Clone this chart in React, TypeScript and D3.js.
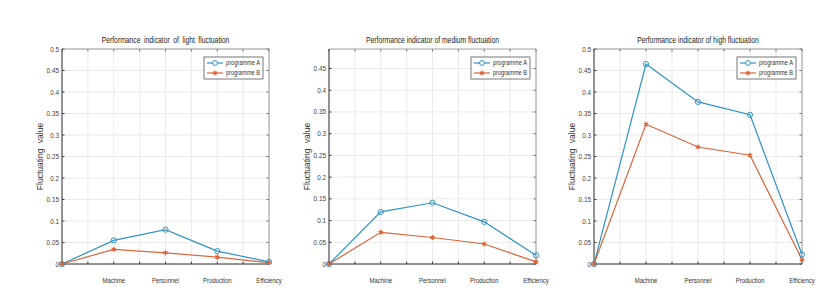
import { useEffect, useRef } from "react";
import * as d3 from "d3";

// category positions on the x axis (MATLAB style 0..8 with labels at 2,4,6,8)
const xPositions = [0, 2, 4, 6, 8];
const categoryLabels = ["", "Machine", "Personnel", "Production", "Efficiency"];
const yTicks = [0, 0.05, 0.1, 0.15, 0.2, 0.25, 0.3, 0.35, 0.4, 0.45, 0.5];

const titles = [
  "Performance indicator of light fluctuation",
  "Performance indicator of medium fluctuation",
  "Performance indicator of high fluctuation",
];

const lightA = [0, 0.055, 0.08, 0.03, 0.005];
const lightB = [0, 0.034, 0.026, 0.016, 0.003];
const mediumA = [0, 0.12, 0.141, 0.097, 0.02];
const mediumB = [0, 0.073, 0.061, 0.046, 0.005];
const highA = [0, 0.465, 0.377, 0.347, 0.022];
const highB = [0, 0.325, 0.272, 0.253, 0.01];

const yMaxes = [0.5, 0.495, 0.5];
const seriesNames = ["programme A", "programme B"];

const colorA = "#2f93c4";
const colorB = "#d9653a";
const font = "'Liberation Sans', Arial, sans-serif";

// squeeze text horizontally, the source image is a bit compressed
function squeeze(sel, k = 0.82) {
  sel.each(function () {
    const len = this.getComputedTextLength();
    if (len > 0) {
      d3.select(this).attr("textLength", len * k).attr("lengthAdjust", "spacingAndGlyphs");
    }
  });
}

function App() {
  const ref = useRef(null);

  useEffect(() => {
    const width = 827;
    const height = 305;
    const root = d3.select(ref.current);
    root.selectAll("*").remove();

    const svg = root
      .append("svg")
      .attr("width", width)
      .attr("height", height)
      .style("display", "block")
      .style("background", "#fff");

    const panels = [
      { left: 62, right: 269, a: lightA, b: lightB },
      { left: 329, right: 536, a: mediumA, b: mediumB },
      { left: 594, right: 802, a: highA, b: highB },
    ];
    const top = 49;
    const bottom = 264;

    panels.forEach((p, i) => {
      const x = d3.scaleLinear().domain([0, 8]).range([p.left, p.right]);
      const y = d3.scaleLinear().domain([0, yMaxes[i]]).range([bottom, top]);
      const g = svg.append("g");
      const ticks = yTicks.filter((t) => t <= yMaxes[i] + 1e-9);

      // grid
      g.selectAll(".gx")
        .data(d3.range(0, 9))
        .enter()
        .append("line")
        .attr("x1", (d) => x(d))
        .attr("x2", (d) => x(d))
        .attr("y1", top)
        .attr("y2", bottom)
        .attr("stroke", "#e4e4e4")
        .attr("stroke-width", 0.8);
      g.selectAll(".gy")
        .data(ticks)
        .enter()
        .append("line")
        .attr("x1", p.left)
        .attr("x2", p.right)
        .attr("y1", (d) => y(d))
        .attr("y2", (d) => y(d))
        .attr("stroke", "#e4e4e4")
        .attr("stroke-width", 0.8);

      // ticks on all four sides
      d3.range(0, 9).forEach((d) => {
        g.append("line").attr("x1", x(d)).attr("x2", x(d)).attr("y1", bottom).attr("y2", bottom - 2.5).attr("stroke", "#444");
        g.append("line").attr("x1", x(d)).attr("x2", x(d)).attr("y1", top).attr("y2", top + 2.5).attr("stroke", "#777");
      });
      ticks.forEach((d) => {
        g.append("line").attr("x1", p.left).attr("x2", p.left + 2.5).attr("y1", y(d)).attr("y2", y(d)).attr("stroke", "#444");
        g.append("line").attr("x1", p.right).attr("x2", p.right - 2.5).attr("y1", y(d)).attr("y2", y(d)).attr("stroke", "#777");
      });

      // box
      g.append("line").attr("x1", p.left).attr("x2", p.right).attr("y1", top).attr("y2", top).attr("stroke", "#888").attr("stroke-width", 0.8);
      g.append("line").attr("x1", p.right).attr("x2", p.right).attr("y1", top).attr("y2", bottom).attr("stroke", "#888").attr("stroke-width", 0.8);
      g.append("line").attr("x1", p.left).attr("x2", p.right).attr("y1", bottom).attr("y2", bottom).attr("stroke", "#333").attr("stroke-width", 1);
      g.append("line").attr("x1", p.left).attr("x2", p.left).attr("y1", top).attr("y2", bottom).attr("stroke", "#333").attr("stroke-width", 1);

      // y tick labels
      g.selectAll(".yl")
        .data(ticks)
        .enter()
        .append("text")
        .attr("x", p.left - 3)
        .attr("y", (d) => y(d) + 2.5)
        .attr("text-anchor", "end")
        .attr("font-family", font)
        .attr("font-size", 7.5)
        .attr("fill", "#444")
        .text((d) => d3.format("")(+d.toFixed(2)))
        .call(squeeze, 0.85);

      // category labels
      g.selectAll(".xl")
        .data(categoryLabels)
        .enter()
        .append("text")
        .attr("x", (d, j) => x(xPositions[j]))
        .attr("y", 283)
        .attr("text-anchor", "middle")
        .attr("font-family", font)
        .attr("font-size", 7.5)
        .attr("fill", "#333")
        .text((d) => d)
        .call(squeeze, 0.8);

      // title
      g.append("text")
        .attr("x", (p.left + p.right) / 2)
        .attr("y", 43)
        .attr("text-anchor", "middle")
        .attr("font-family", font)
        .attr("font-size", 8.5)
        .attr("fill", "#222")
        .attr("word-spacing", i === 0 ? 2 : 0)
        .text(titles[i])
        .call(squeeze, 0.8);

      // y label
      g.append("text")
        .attr("transform", `translate(${p.left - 19},${(top + bottom) / 2}) rotate(-90)`)
        .attr("text-anchor", "middle")
        .attr("font-family", font)
        .attr("font-size", 8.5)
        .attr("fill", "#333")
        .attr("word-spacing", 3)
        .text("Fluctuating value");

      const line = d3
        .line<number>()
        .x((d, j) => x(xPositions[j]))
        .y((d) => y(d));

      g.append("path").attr("d", line(p.a)).attr("fill", "none").attr("stroke", colorA).attr("stroke-width", 1.2);
      g.append("path").attr("d", line(p.b)).attr("fill", "none").attr("stroke", colorB).attr("stroke-width", 1.2);

      g.selectAll(".ma")
        .data(p.a)
        .enter()
        .append("circle")
        .attr("cx", (d, j) => x(xPositions[j]))
        .attr("cy", (d) => y(d))
        .attr("r", 2.6)
        .attr("fill", "none")
        .attr("stroke", colorA)
        .attr("stroke-width", 1);

      const star = d3.symbol().type(d3.symbolAsterisk).size(18);
      g.selectAll(".mb")
        .data(p.b)
        .enter()
        .append("path")
        .attr("d", star())
        .attr("transform", (d, j) => `translate(${x(xPositions[j])},${y(d)})`)
        .attr("fill", "none")
        .attr("stroke", colorB)
        .attr("stroke-width", 1.2);

      // legend
      const lx = p.right - 65;
      const ly = 57;
      const lg = g.append("g");
      lg.append("rect")
        .attr("x", lx)
        .attr("y", ly)
        .attr("width", 59)
        .attr("height", 22)
        .attr("fill", "#fff")
        .attr("stroke", "#555")
        .attr("stroke-width", 0.8);
      seriesNames.forEach((name, k) => {
        const cy = ly + 6 + k * 10;
        const c = k === 0 ? colorA : colorB;
        lg.append("line").attr("x1", lx + 3).attr("x2", lx + 19).attr("y1", cy).attr("y2", cy).attr("stroke", c).attr("stroke-width", 1.2);
        if (k === 0) {
          lg.append("circle").attr("cx", lx + 11).attr("cy", cy).attr("r", 2.4).attr("fill", "#fff").attr("stroke", c);
        } else {
          lg.append("path").attr("d", star()).attr("transform", `translate(${lx + 11},${cy})`).attr("fill", "none").attr("stroke", c).attr("stroke-width", 1.2);
        }
        lg.append("text")
          .attr("x", lx + 22)
          .attr("y", cy + 2.3)
          .attr("font-family", font)
          .attr("font-size", 6.8)
          .attr("fill", "#333")
          .text(name)
          .attr("textLength", 34)
          .attr("lengthAdjust", "spacingAndGlyphs");
      });
    });
  }, []);

  return <div ref={ref} style={{ margin: -8 }}></div>;
}

export default App;
